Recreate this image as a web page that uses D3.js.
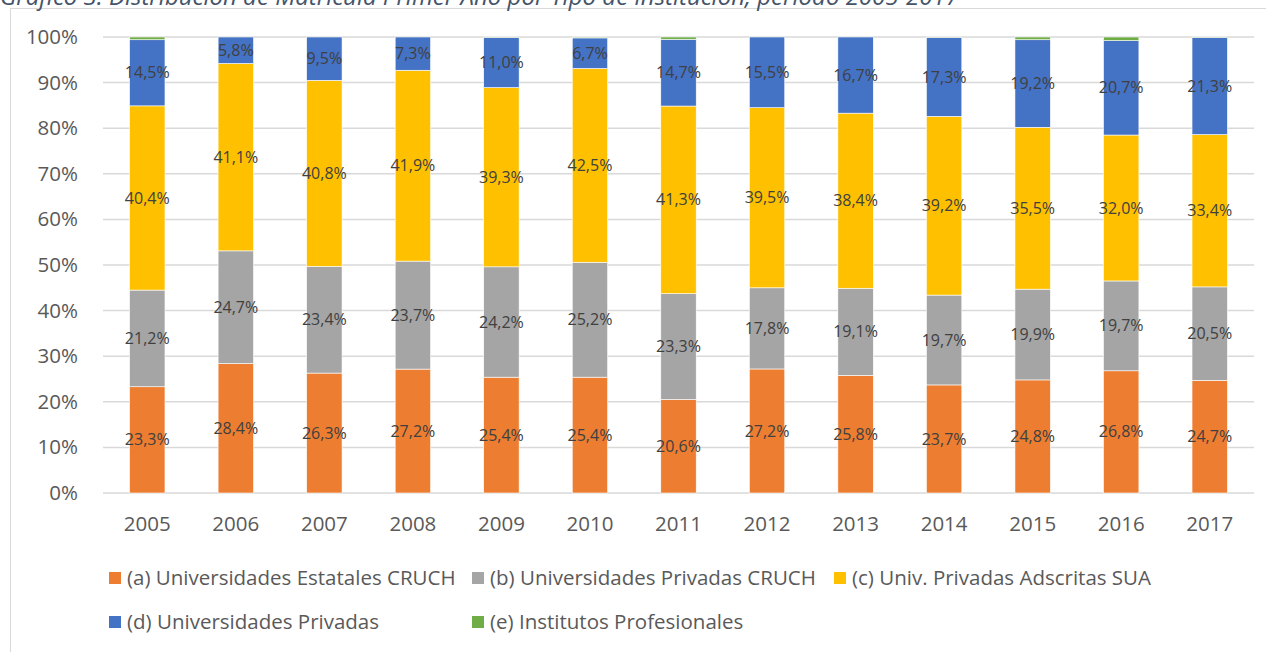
<!DOCTYPE html>
<html>
<head>
<meta charset="utf-8">
<script src="https://cdn.jsdelivr.net/npm/d3@7"></script>
<style>
  body { margin: 0; background: #fff; }
  text { font-family: "Open Sans", sans-serif; }
</style>
</head>
<body>
<svg id="chart" width="1266" height="652"></svg>
<script>
// Data
const years = ["2005","2006","2007","2008","2009","2010","2011","2012","2013","2014","2015","2016","2017"];
const seriesNames = [
  "(a) Universidades Estatales CRUCH",
  "(b) Universidades Privadas CRUCH",
  "(c) Univ. Privadas Adscritas SUA",
  "(d) Universidades Privadas",
  "(e) Institutos Profesionales"
];
const estatales  = [23.3, 28.4, 26.3, 27.2, 25.4, 25.4, 20.6, 27.2, 25.8, 23.7, 24.8, 26.8, 24.7];
const privCruch  = [21.2, 24.7, 23.4, 23.7, 24.2, 25.2, 23.3, 17.8, 19.1, 19.7, 19.9, 19.7, 20.5];
const adscritas  = [40.4, 41.1, 40.8, 41.9, 39.3, 42.5, 41.3, 39.5, 38.4, 39.2, 35.5, 32.0, 33.4];
const privadas   = [14.5, 5.8, 9.5, 7.3, 11.0, 6.7, 14.7, 15.5, 16.7, 17.3, 19.2, 20.7, 21.3];
const institutos = [0.6, 0.0, 0.0, 0.0, 0.1, 0.2, 0.5, 0.0, 0.0, 0.1, 0.6, 0.8, 0.1];
const yTicks = [0, 10, 20, 30, 40, 50, 60, 70, 80, 90, 100];
const colors = ["#ED7D31", "#A5A5A5", "#FFC000", "#4472C4", "#70AD47"];

const allSeries = [estatales, privCruch, adscritas, privadas, institutos];
const keys = ["a", "b", "c", "d", "e"];
const table = years.map((y, i) => {
  const row = { year: y };
  keys.forEach((k, j) => row[k] = allSeries[j][i]);
  return row;
});

const svg = d3.select("#chart");
const margin = { left: 103, right: 12, top: 37, bottom: 159 };
const W = 1266, H = 652;

// chart frame and title
svg.append("rect")
  .attr("x", 10.5).attr("y", 8.5)
  .attr("width", 1270).attr("height", 660)
  .attr("fill", "#fff").attr("stroke", "#D9D9D9");

svg.append("text")
  .attr("x", 0).attr("y", 5)
  .attr("font-size", 24).attr("font-style", "italic")
  .attr("fill", "#44546A")
  .text("Gráfico 3. Distribución de Matrícula Primer Año por Tipo de Institución, periodo 2005-2017");

const x = d3.scaleBand()
  .domain(years)
  .range([margin.left, W - margin.right])
  .paddingInner(0.6).paddingOuter(0.3);

const y = d3.scaleLinear()
  .domain([0, 1])
  .range([H - margin.bottom, margin.top]);

// gridlines
svg.append("g")
  .selectAll("line")
  .data(yTicks)
  .join("line")
  .attr("x1", margin.left).attr("x2", W - margin.right)
  .attr("y1", d => y(d / 100)).attr("y2", d => y(d / 100))
  .attr("stroke", "#D9D9D9").attr("stroke-width", 1.5);

// y axis labels
const yAxis = svg.append("g")
  .attr("transform", `translate(${margin.left - 22},0)`)
  .call(d3.axisLeft(y).tickValues(yTicks.map(d => d / 100)).tickFormat(d => Math.round(d * 100) + "%").tickSize(0));
yAxis.select(".domain").remove();
yAxis.selectAll("text")
  .attr("font-size", 20.5).attr("fill", "#595959")
  .style("font-family", "'Open Sans', sans-serif");

// x axis labels
const xAxis = svg.append("g")
  .attr("transform", `translate(0,${H - margin.bottom + 20})`)
  .call(d3.axisBottom(x).tickSize(0));
xAxis.select(".domain").remove();
xAxis.selectAll("text")
  .attr("font-size", 20.5).attr("fill", "#595959")
  .attr("dy", "0.71em")
  .style("font-family", "'Open Sans', sans-serif");

// stacked bars (100% stacked)
const stack = d3.stack().keys(keys).offset(d3.stackOffsetExpand);
const layers = stack(table);

const gLayers = svg.append("g")
  .selectAll("g")
  .data(layers)
  .join("g")
  .attr("fill", (d, i) => colors[i]);

gLayers.selectAll("rect")
  .data(d => d)
  .join("rect")
  .attr("x", d => x(d.data.year))
  .attr("width", x.bandwidth())
  .attr("y", d => y(d[1]))
  .attr("height", d => y(d[0]) - y(d[1]))
  .attr("stroke", "#fff").attr("stroke-width", 0.6);

// data labels (first four series)
svg.append("g")
  .selectAll("g")
  .data(layers.slice(0, 4))
  .join("g")
  .selectAll("text")
  .data(d => d.map(v => ({ v, key: d.key })))
  .join("text")
  .attr("x", d => x(d.v.data.year) + x.bandwidth() / 2)
  .attr("y", d => (y(d.v[0]) + y(d.v[1])) / 2)
  .attr("dy", "0.35em")
  .attr("text-anchor", "middle")
  .attr("font-size", 16).attr("fill", "#404040")
  .text(d => d3.format(".1f")(d.v.data[d.key]).replace(".", ",") + "%");

// legend
const legendPos = [[109, 578], [472, 578], [834, 578], [109, 622], [472, 622]];
const legend = svg.append("g")
  .selectAll("g")
  .data(seriesNames)
  .join("g")
  .attr("transform", (d, i) => `translate(${legendPos[i][0]},${legendPos[i][1]})`);

legend.append("rect")
  .attr("x", 0).attr("y", -6)
  .attr("width", 12).attr("height", 12)
  .attr("fill", (d, i) => colors[i]);

legend.append("text")
  .attr("x", 18).attr("dy", "0.35em")
  .attr("font-size", 20.5).attr("fill", "#595959")
  .text(d => d);
</script>
</body>
</html>
